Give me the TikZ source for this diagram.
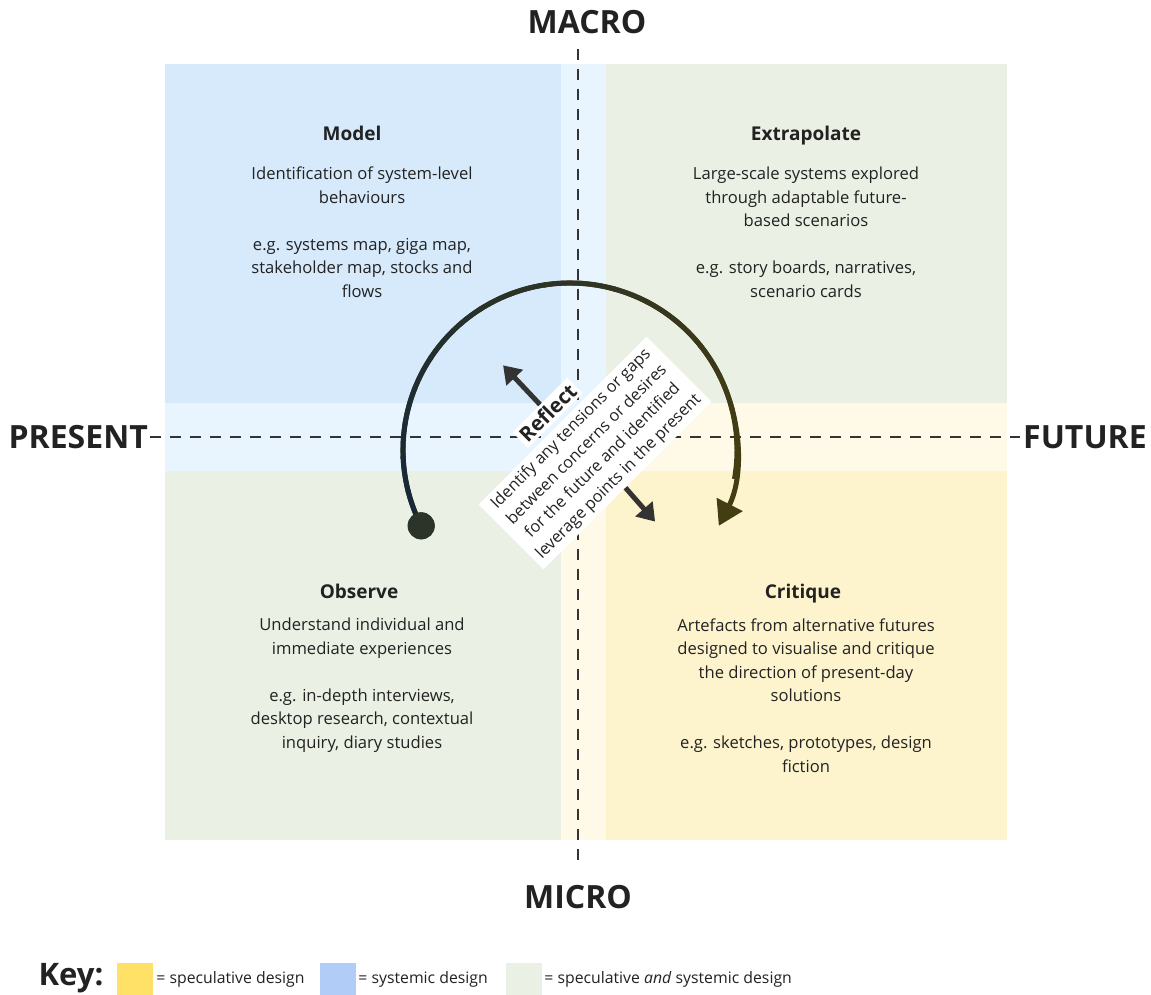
\documentclass[tikz,border=0pt]{standalone}
\usepackage{fontspec}
\setmainfont{Open Sans}
\usetikzlibrary{arrows.meta,positioning,calc}
\definecolor{quadBlue}{HTML}{D6EAFB}
\definecolor{bandBlue}{HTML}{E8F4FE}
\definecolor{quadGreen}{HTML}{EAF0E4}
\definecolor{quadYellow}{HTML}{FDF4CE}
\definecolor{bandYellow}{HTML}{FFF9E7}
\definecolor{keyYellow}{HTML}{FFE168}
\definecolor{keyBlue}{HTML}{B1CCF7}
\definecolor{inkDark}{HTML}{222222}
\definecolor{pointerGrey}{HTML}{333333}
\definecolor{dotDark}{HTML}{2C3329}
\definecolor{arcStart}{HTML}{16283A}
\definecolor{arcEnd}{HTML}{433D12}
\tikzset{
    axislabel/.style = {font=\fontsize{32}{32}\selectfont\bfseries,
                    text=inkDark,
                    inner sep=0pt},
    axisline/.style = {draw=pointerGrey,
                    line width=2.4pt,
                    dash pattern=on 11pt off 9pt},
    title/.style =  {font=\fontsize{19}{19}\selectfont\bfseries,
                    text=inkDark,
                    anchor=base,
                    inner sep=0pt},
    body/.style =   {font=\fontsize{16.6}{23.5}\selectfont,
                    text=inkDark,
                    align=center,
                    anchor=base,
                    inner sep=0pt},
    notebox/.style = {rectangle,
                    fill=white,
                    font=\fontsize{16.3}{22.5}\selectfont,
                    text=inkDark,
                    align=center,
                    inner xsep=6pt,
                    inner ysep=4pt},
    reflect/.style = {rectangle,
                    fill=white,
                    font=\fontsize{20.5}{20.5}\selectfont\bfseries,
                    text=inkDark,
                    inner sep=3pt},
    startdot/.style = {circle,
                    fill=dotDark,
                    minimum size=27pt,
                    inner sep=0pt},
    cycleline/.style = {line width=5pt},
    pointer/.style = {draw=pointerGrey,
                    line width=5pt,
                    -{Triangle[length=17pt,width=22pt]}},
    swatch/.style = {rectangle,
                    minimum width=36pt,
                    minimum height=32pt,
                    inner sep=0pt},
    keylabel/.style = {font=\fontsize{31}{31}\selectfont\bfseries,
                    text=inkDark,
                    inner sep=0pt},
    keytext/.style = {font=\fontsize{15.8}{15.8}\selectfont,
                    text=inkDark,
                    inner sep=0pt}
}
\begin{document}
\begin{tikzpicture}[x=1pt,y=1pt]
    \useasboundingbox (0,0) rectangle (1151,-995);
    \fill[white] (0,0) rectangle (1151,-995);

    \fill[quadBlue]   (165,-64)  rectangle (561,-403);
    \fill[bandBlue]   (561,-64)  rectangle (606,-471);
    \fill[bandBlue]   (165,-403) rectangle (561,-471);
    \fill[quadGreen]  (606,-64)  rectangle (1007,-403);
    \fill[bandYellow] (606,-403) rectangle (1007,-471);
    \fill[bandYellow] (561,-471) rectangle (606,-840);
    \fill[quadGreen]  (165,-471) rectangle (561,-840);
    \fill[quadYellow] (606,-471) rectangle (1007,-840);

    \node[axislabel] (macro)   at (587,-22)              {MACRO};
    \node[axislabel] (micro)   at (578,-897)             {MICRO};
    \node[axislabel] (present) [anchor=east] at (148,-437) {PRESENT};
    \node[axislabel] (future)  [anchor=west] at (1023,-437) {FUTURE};

    \draw[axisline, shorten <=15pt, shorten >=18pt] (macro.south -| micro.north) -- (micro.north);
    \draw[axisline, shorten <=2pt, shorten >=3pt] (present.east) -- (future.west);

    \node[title] (modelT)  at (352,-141) {Model};
    \node[body]  (modelB)  at (362,-297) {Identification of system-level\\behaviours\\[23.5pt]e.g. systems map, giga map,\\stakeholder map, stocks and\\flows};
    \node[title] (extraT)  at (806,-141) {Extrapolate};
    \node[body]  (extraB)  at (806,-297) {Large-scale systems explored\\through adaptable future-\\based scenarios\\[23.5pt]e.g. story boards, narratives,\\scenario cards};
    \node[title] (observeT) at (359,-598.5) {Observe};
    \node[body]  (observeB) at (362,-748) {Understand individual and\\immediate experiences\\[23.5pt]e.g. in-depth interviews,\\desktop research, contextual\\inquiry, diary studies};
    \node[title] (critiqueT) at (803,-598.5) {Critique};
    \node[body]  (critiqueB) at (806,-772) {Artefacts from alternative futures\\designed to visualise and critique\\the direction of present-day\\solutions\\[23.5pt]e.g. sketches, prototypes, design\\fiction};

    \coordinate (ctr) at (570,-450);
    \node[startdot] (start) at ($(ctr)+(207:167)$) {};
    \draw[cycleline, arcEnd, -{Triangle[length=24pt,width=28pt]}] (start.center) arc (207:-27:167);
    \foreach \i in {0,...,17}{
        \pgfmathtruncatemacro\mix{100-\i*100/17}
        \draw[cycleline, arcStart!\mix!arcEnd] ($(ctr)+({207-\i*12}:167)$) arc ({207-\i*12}:{207-(\i+1)*12-1}:167);
    }
    \node[startdot] (dot) at (start) {};

    \begin{scope}[shift={(595,-453)}, rotate=45, transform shape]
        \node[notebox] (note)    at (0,0)   {Identify any tensions or gaps\\between concerns or desires\\for the future and identified\\leverage points in the present};
        \node[reflect] (reflect) at (-5,62) {Reflect};
        \coordinate (upTip)   at (-3,127);
        \coordinate (downTip) at (-6,-91);
    \end{scope}
    \draw[pointer] (reflect) -- (upTip);
    \draw[pointer] (note) -- (downTip);

    \node[keylabel] (key) at (71,-978) {Key:};
    \node[swatch, fill=keyYellow] (swY) at (135,-979) {};
    \node[keytext] (txtY) [right=3pt of swY] {= speculative design};
    \node[swatch, fill=keyBlue]   (swB) at (338,-979) {};
    \node[keytext] (txtB) [right=2pt of swB] {= systemic design};
    \node[swatch, fill=quadGreen] (swG) at (524,-979) {};
    \node[keytext] (txtG) [right=2pt of swG] {= speculative \textit{and} systemic design};
\end{tikzpicture}
\end{document}
